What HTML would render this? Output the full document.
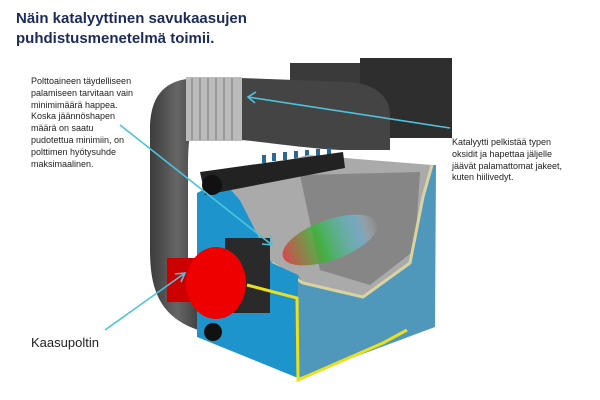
<!DOCTYPE html>
<html><head><meta charset="utf-8"><style>
body{margin:0;width:600px;height:400px;background:#fff;overflow:hidden;position:relative;font-family:"Liberation Sans",sans-serif}
.t{position:absolute;left:16px;top:9px;font-size:15px;font-weight:bold;color:#1d2b5a;line-height:20px}
.s{position:absolute;font-size:9px;line-height:11.8px;color:#222}
</style></head><body>
<svg width="600" height="400" style="position:absolute;left:0;top:0">
<defs>
<linearGradient id="g1" x1="0" x2="1"><stop offset="0" stop-color="#3c3c3c"/><stop offset=".5" stop-color="#666"/><stop offset="1" stop-color="#333"/></linearGradient>
<linearGradient id="fl" x1="0" x2="1"><stop offset="0" stop-color="#d33"/><stop offset=".4" stop-color="#3b3"/><stop offset=".8" stop-color="#6cf" stop-opacity=".6"/><stop offset="1" stop-color="#fff" stop-opacity="0"/></linearGradient>
</defs>
<path d="M205,332 C160,320 150,290 150,250 L150,130 C150,90 170,78 200,78 L200,120 C190,120 188,140 188,170 L188,260 C188,285 195,300 205,300 Z" fill="url(#g1)"/>
<rect x="290" y="63" width="160" height="75" fill="#3a3a3a"/>
<rect x="360" y="58" width="92" height="80" fill="#2e2e2e"/>
<path d="M240,78 L350,82 C380,85 390,100 390,115 L390,150 L340,150 C300,148 250,140 240,140 Z" fill="#444"/>
<rect x="186" y="77" width="56" height="64" fill="#bbb"/>
<g stroke="#777" stroke-width="1"><line x1="192" y1="78" x2="192" y2="140"/><line x1="200" y1="78" x2="200" y2="140"/><line x1="208" y1="78" x2="208" y2="140"/><line x1="216" y1="78" x2="216" y2="140"/><line x1="224" y1="78" x2="224" y2="140"/><line x1="232" y1="78" x2="232" y2="140"/></g>
<g fill="#2a6a90"><rect x="262" y="155" width="4" height="8"/><rect x="272" y="153" width="4" height="8"/><rect x="283" y="152" width="4" height="8"/><rect x="294" y="151" width="4" height="8"/><rect x="305" y="150" width="4" height="8"/><rect x="316" y="149" width="4" height="8"/><rect x="327" y="148" width="4" height="8"/></g>
<path d="M220,178 L308,155 L432,165 L423,197 L410,263 L363,297 L303,283 L272,263 L240,200 Z" fill="#aaa"/>
<path d="M300,175 L420,172 L415,250 L370,285 L320,270 Z" fill="#6e6e6e" opacity=".6"/>
<ellipse cx="330" cy="240" rx="50" ry="20" fill="url(#fl)" transform="rotate(-20 330 240)" opacity=".8"/>
<path d="M298,275 L303,283 L363,297 L410,263 L423,197 L432,165 L436,165 L435,327 L298,378 Z" fill="#3d8cb5" opacity=".9"/>
<path d="M272,263 L303,283 L363,297 L410,263 L423,197 L432,165" fill="none" stroke="#d9d3a0" stroke-width="3"/>
<path d="M197,193 L222,180 L240,200 L272,263 L298,275 L298,378 L197,337 Z" fill="#1e94cc"/>
<path d="M200,172 L343,152 L345,168 L205,195 Z" fill="#222"/>
<circle cx="212" cy="185" r="10" fill="#111"/>
<rect x="225" y="238" width="45" height="75" fill="#2a2a2a"/>
<rect x="167" y="258" width="40" height="44" fill="#c00"/>
<ellipse cx="216" cy="283" rx="30" ry="36" fill="#e00"/>
<path d="M247,285 L297,298 L298,380 L383,343 L407,330" fill="none" stroke="#e8e020" stroke-width="3"/>
<circle cx="213" cy="332" r="9" fill="#111"/>
<g stroke="#4cc3dc" stroke-width="1.6" fill="none">
<line x1="120" y1="125" x2="272" y2="245"/>
<polyline points="262,244 272,245 270,235"/>
<line x1="450" y1="128" x2="248" y2="97"/>
<polyline points="256,92 248,97 255,103"/>
<line x1="105" y1="330" x2="185" y2="273"/>
<polyline points="175,274 185,273 181,282"/>
</g>
</svg>
<div class="t">Näin katalyyttinen savukaasujen<br>puhdistusmenetelmä toimii.</div>
<div class="s" style="left:31px;top:76px">Polttoaineen täydelliseen<br>palamiseen tarvitaan vain<br>minimimäärä happea.<br>Koska jäännöshapen<br>määrä on saatu<br>pudotettua minimiin, on<br>polttimen hyötysuhde<br>maksimaalinen.</div>
<div class="s" style="left:452px;top:137px">Katalyytti pelkistää typen<br>oksidit ja hapettaa jäljelle<br>jäävät palamattomat jakeet,<br>kuten hiilivedyt.</div>
<div style="position:absolute;left:31px;top:335px;font-size:13px;color:#222">Kaasupoltin</div>
</body></html>
